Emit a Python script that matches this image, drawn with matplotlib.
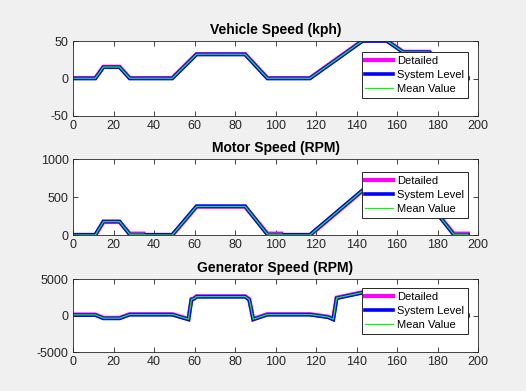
import matplotlib
matplotlib.use("Agg")
import matplotlib.pyplot as plt

plt.rcParams['font.family'] = ['Liberation Sans', 'DejaVu Sans']
plt.rcParams['axes.unicode_minus'] = False

# ---- data ----
t_cycle = [0, 11, 15, 23, 28, 49, 61, 85, 96, 117, 143, 155, 163, 176, 188, 195]
veh_detailed = [0.6, 0.6, 15.6, 15.6, 0.6, 0.6, 32.6, 32.6, 0.6, 0.6, 50.6, 50.6, 35.6, 35.6, 0.6, 0.6]
veh_system = [0, 0, 15, 15, 0, 0, 32, 32, 0, 0, 50, 50, 35, 35, 0, 0]
veh_mean = [0.3, 0.3, 15.3, 15.3, 0.3, 0.3, 32.3, 32.3, 0.3, 0.3, 50.3, 50.3, 35.3, 35.3, 0.3, 0.3]

t_motor = [0, 11, 15, 23, 28, 35, 35.5, 49, 61, 85, 96, 103, 103.5, 117, 143, 155, 163, 176, 188, 195]
mot_detailed = [-4, -4, 172, 172, 18, 18, -4, -4, 373, 373, 18, 18, -4, -4, 585, 585, 408, 408, 18, 18]
mot_system = [4, 4, 180, 180, 4, 4, 4, 4, 381, 381, 4, 4, 4, 4, 593, 593, 416, 416, 3, 3]
mot_mean = [0, 0, 176, 176, 11, 11, 0, 0, 377, 377, 11, 11, 0, 0, 589, 589, 412, 412, 10, 10]

t_gen = [0, 11, 15, 23, 28, 49, 57, 58.5, 60, 61, 85, 87, 89, 96, 117, 126,
         128.5, 130.2, 143, 155, 163, 176, 186, 188, 195]
gen_detailed = [150, 150, -300, -300, 200, 200, -450, 2250, 2400, 2650, 2650, 2250, -450, 200, 200, -150,
                -450, 2450, 3200, 3200, 2350, 2350, -350, 50, 50]
gen_system = [70, 70, -380, -380, 120, 120, -530, 2170, 2320, 2570, 2570, 2170, -530, 120, 120, -230,
              -530, 2370, 3120, 3120, 2270, 2270, -430, -30, -30]
gen_mean = [110, 110, -340, -340, 160, 160, -490, 2210, 2360, 2610, 2610, 2210, -490, 160, 160, -190,
            -490, 2410, 3160, 3160, 2310, 2310, -390, 10, 10]

titles = ["Vehicle Speed (kph)", "Motor Speed (RPM)", "Generator Speed (RPM)"]
ylims = [(-50, 50), (0, 1000), (-5000, 5000)]
yticks = [[-50, 0, 50], [0, 500, 1000], [-5000, 0, 5000]]
xticks = list(range(0, 201, 20))
labels = ["Detailed", "System Level", "Mean Value"]

series = [
    (t_cycle, veh_detailed, t_cycle, veh_system, t_cycle, veh_mean),
    (t_motor, mot_detailed, t_motor, mot_system, t_motor, mot_mean),
    (t_gen, gen_detailed, t_gen, gen_system, t_gen, gen_mean),
]

W, H = 526, 391
fig = plt.figure(figsize=(W / 100, H / 100), dpi=100, facecolor='#f0f0f0')

# axes boxes in pixels: (top, bottom)
boxes = [(41, 116), (159.3, 235), (279, 352.3)]
legend_off = [11, 13, 9]
left, right = 73, 478
dark = '#262626'

for i, (top, bot) in enumerate(boxes):
    ax = fig.add_axes([left / W, 1 - bot / H, (right - left) / W, (bot - top) / H])
    ax.set_facecolor('white')
    td, vd, ts, vs, tm, vm = series[i]
    ax.plot(td, vd, color='#ff00ff', lw=3.0, label=labels[0], solid_joinstyle='miter')
    ax.plot(ts, vs, color='#0000ff', lw=2.6, label=labels[1], solid_joinstyle='miter')
    ax.plot(tm, vm, color='#00ff00', lw=0.9, label=labels[2])
    ax.set_xlim(0, 200)
    ax.set_ylim(*ylims[i])
    ax.set_xticks(xticks)
    ax.set_yticks(yticks[i])
    ax.tick_params(direction='in', length=3.5, width=0.6, colors=dark, labelsize=9,
                   top=True, right=True, pad=3)
    for sp in ax.spines.values():
        sp.set_color(dark)
        sp.set_linewidth(0.6)
    ax.set_title(titles[i], fontsize=10, fontweight='bold', color='black', pad=5)
    h = bot - top
    leg = ax.legend(loc='upper right',
                    bbox_to_anchor=(1 - 10 / (right - left), 1 - legend_off[i] / h),
                    borderaxespad=0, fancybox=False, framealpha=1, edgecolor=dark,
                    fontsize=8, handlelength=2.5, handletextpad=0.35, labelspacing=0.35,
                    borderpad=0.35)
    leg.get_frame().set_linewidth(0.7)
    for txt in leg.get_texts():
        txt.set_color('black')

fig.savefig('out.png', dpi=100, facecolor=fig.get_facecolor())
